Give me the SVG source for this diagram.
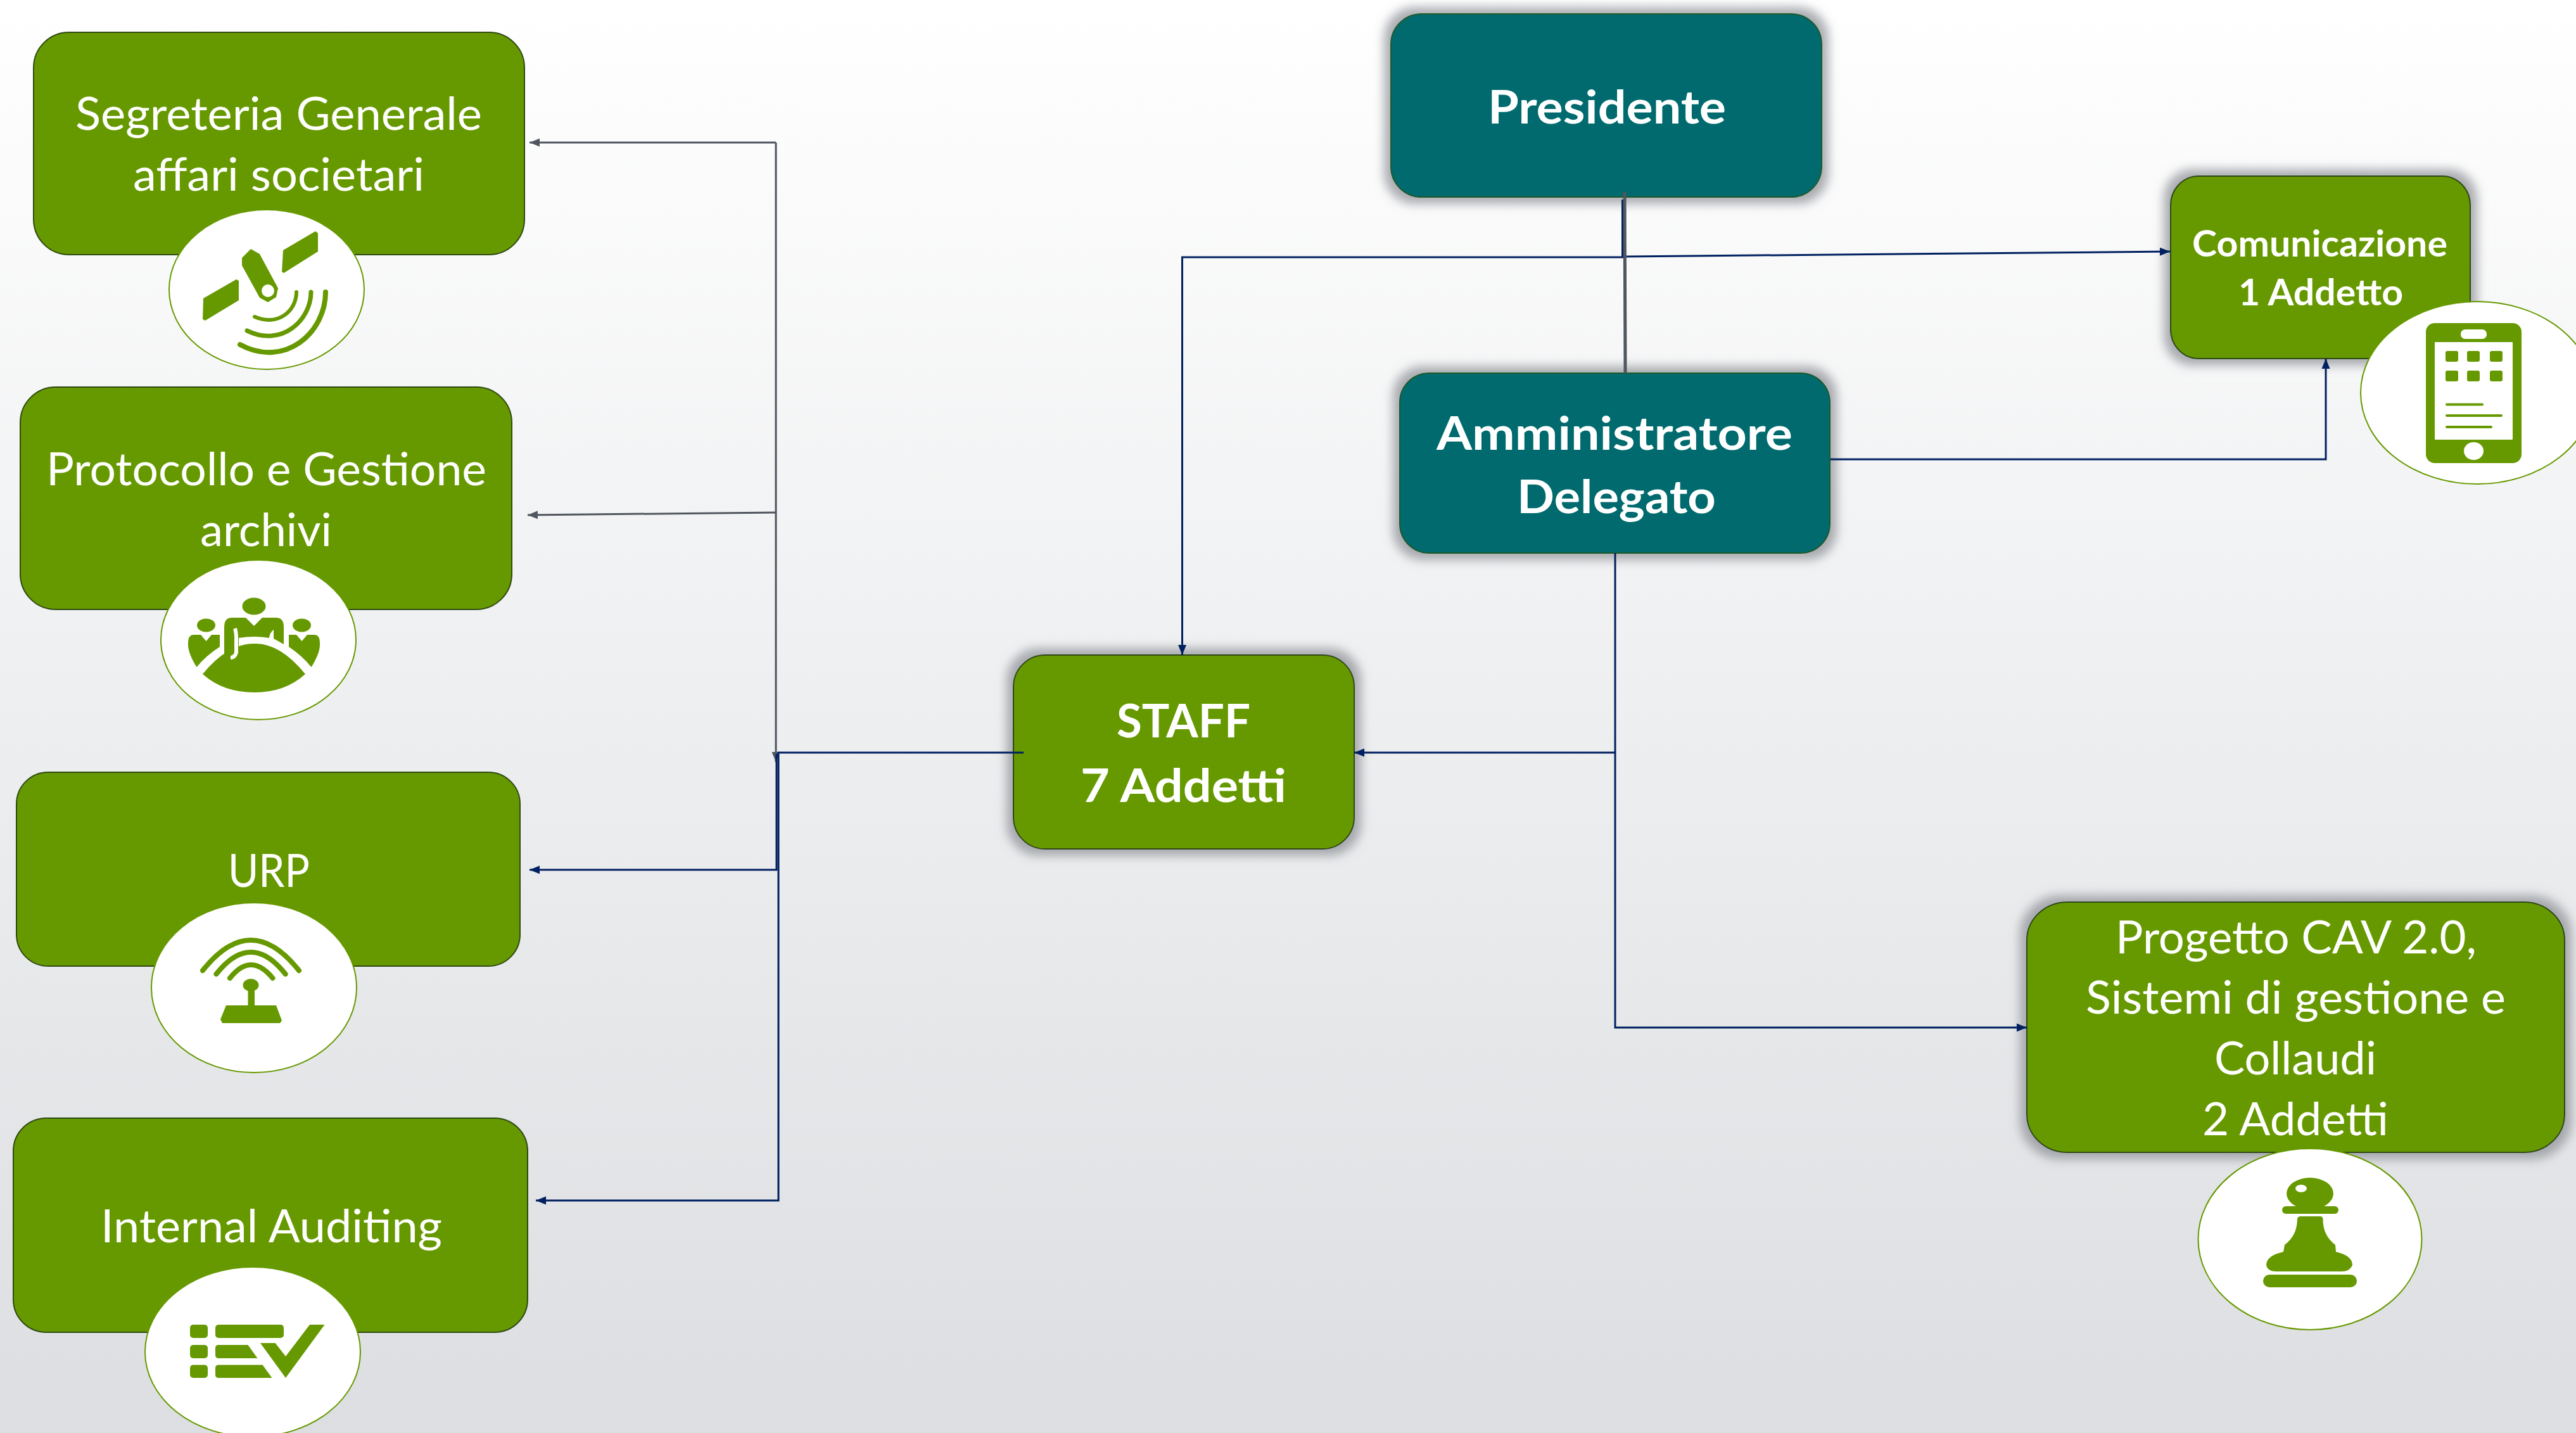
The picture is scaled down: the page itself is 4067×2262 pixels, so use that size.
<svg xmlns="http://www.w3.org/2000/svg" width="4067" height="2262" viewBox="0 0 4067 2262">
<defs>
<linearGradient id="bg" x1="0" y1="0" x2="0" y2="1"><stop offset="0" stop-color="#ffffff"/><stop offset="1" stop-color="#dcdee1"/></linearGradient>
<filter id="glow" x="-15%" y="-15%" width="130%" height="130%">
<feMorphology in="SourceAlpha" operator="dilate" radius="10" result="d"/>
<feGaussianBlur in="d" stdDeviation="8" result="b"/>
<feFlood flood-color="#8f9298" flood-opacity="0.75"/>
<feComposite in2="b" operator="in" result="s"/>
<feMerge><feMergeNode in="s"/><feMergeNode in="SourceGraphic"/></feMerge>
</filter>
<marker id="an" markerUnits="userSpaceOnUse" markerWidth="18" markerHeight="18" refX="16" refY="9" orient="auto"><path d="M0 2.5 L16 9 L0 15.5Z" fill="#002060"/></marker>
<marker id="ag" markerUnits="userSpaceOnUse" markerWidth="18" markerHeight="18" refX="16" refY="9" orient="auto"><path d="M0 2.5 L16 9 L0 15.5Z" fill="#50565e"/></marker>
<style>
.g{fill:#669900;stroke:#2f4a12;stroke-width:2}
.t{fill:#006b6e;stroke:#1f5a2a;stroke-width:2}
.c{fill:#ffffff;stroke:#669900;stroke-width:2}
.i{fill:#669900}
.ia{fill:none;stroke:#669900;stroke-linecap:round}
text{font-family:Lato,"Open Sans","Liberation Sans",sans-serif;fill:#ffffff;text-anchor:start}
.r{font-size:71px}
.b{font-size:73px;font-weight:700}
.s{font-size:57px;font-weight:700}
.nav{fill:none;stroke:#002060;stroke-width:3}
.gry{fill:none;stroke:#50565e;stroke-width:3}
</style>
</defs>
<rect width="4067" height="2262" fill="url(#bg)"/>

<g id="node-segreteria">
<rect class="g" x="53" y="51" width="775" height="351" rx="56" ry="56"/>
<text class="r" x="119" y="205" textLength="642" lengthAdjust="spacingAndGlyphs">Segreteria Generale</text>
<text class="r" x="210" y="301" textLength="460" lengthAdjust="spacingAndGlyphs">affari societari</text>
<ellipse class="c" cx="421" cy="457" rx="154" ry="126"/>
<path class="i" d="M447 395L498 365L502 368V397L448 431L445 429Z"/>
<path class="i" d="M321 471L373 441L377 443V474L324 506L320 504Z"/>
<path class="i" fill-rule="evenodd" d="M382 407L396 393L410 401L439 455L436 469L423 477L410 470L382 419ZM423 449A10 10 0 1 0 423 469A10 10 0 1 0 423 449Z"/>
<path class="ia" stroke-width="6" d="M468 461C468 490 440 516 402 500"/>
<path class="ia" stroke-width="7" d="M491 461C491 505 445 549 390 522"/>
<path class="ia" stroke-width="8" d="M514 461C514 525 450 582 379 544"/>
</g>

<g id="node-protocollo">
<rect class="g" x="32" y="611" width="776" height="351" rx="56" ry="56"/>
<text class="r" x="73" y="766" textLength="695" lengthAdjust="spacingAndGlyphs">Protocollo e Gestione</text>
<text class="r" x="316" y="862" textLength="208" lengthAdjust="spacingAndGlyphs">archivi</text>
<ellipse class="c" cx="408" cy="1010" rx="154" ry="126"/>
<path class="i" d="M320 1064Q360 1015 402 1016Q442 1015 482 1064Q450 1093 402 1093Q352 1093 320 1064Z"/>
<ellipse class="i" cx="401" cy="957" rx="18.5" ry="13.5"/>
<path class="i" d="M354 990Q354 975 366 975H388L401 988L414 975H436Q448 975 448 990V1017L432 1008V994Q426 998 425 1007Q402 1003 377 1007V1030Q375 1042 364 1042Q354 1042 354 1030Z"/>
<path fill="none" stroke="#ffffff" stroke-width="6" d="M371 992Q373 998 373 1008V1030Q371 1038 364 1038"/>
<ellipse class="i" cx="325.500" cy="987" rx="14.500" ry="10.500"/>
<path class="i" d="M297 1015Q297 1002 306 1002H317L325.500 1012L334 1002H347V1021Q325 1035 310.500 1053Q296 1030 297 1015Z"/>
<ellipse class="i" cx="476.500" cy="987" rx="14.500" ry="10.500"/>
<path class="i" d="M505 1015Q505 1002 496 1002H485L476.500 1012L468 1002H456V1021Q477 1035 491.500 1053Q506 1030 505 1015Z"/>
</g>

<g id="node-urp">
<rect class="g" x="26" y="1219" width="795" height="306" rx="50" ry="50"/>
<text class="r" x="360" y="1400" textLength="129" lengthAdjust="spacingAndGlyphs">URP</text>
<ellipse class="c" cx="401" cy="1559" rx="162" ry="134"/>
<path class="ia" stroke-width="8" d="M320 1532Q396 1436 472 1532"/>
<path class="ia" stroke-width="8" d="M341.500 1537.500Q396 1468.500 450.600 1537.500"/>
<path class="ia" stroke-width="8" d="M363 1544Q396 1502 430.500 1544"/>
<ellipse class="i" cx="396" cy="1555" rx="12.500" ry="10"/>
<path class="i" d="M391.500 1560H402V1587H436L445 1611L442 1615H351L348 1609L357 1587H391.500Z"/>
</g>

<g id="node-auditing">
<rect class="g" x="21" y="1765" width="812" height="338" rx="52" ry="52"/>
<text class="r" x="159" y="1961" textLength="539" lengthAdjust="spacingAndGlyphs">Internal Auditing</text>
<ellipse class="c" cx="399" cy="2134" rx="170" ry="134"/>
<rect class="i" x="300" y="2091" width="28" height="21" rx="5"/>
<rect class="i" x="300" y="2123" width="28" height="21" rx="5"/>
<rect class="i" x="300" y="2154.500" width="28" height="20.500" rx="5"/>
<rect class="i" x="340" y="2091" width="108" height="21" rx="5"/>
<path class="i" d="M345 2123H391.500L406.500 2144H345Q340 2144 340 2139V2128Q340 2123 345 2123Z"/>
<path class="i" d="M345 2154.500H414.500L429.400 2175H345Q340 2175 340 2170V2159.500Q340 2154.500 345 2154.500Z"/>
<path class="i" d="M411 2120H434.600L451 2141L489 2091H512.600L451 2175Z"/>
</g>

<g id="node-presidente" filter="url(#glow)">
<rect class="t" x="2196" y="22" width="680" height="289" rx="48" ry="48"/>
<text class="b" x="2349" y="195" textLength="376" lengthAdjust="spacingAndGlyphs">Presidente</text>
</g>

<g id="node-ad" filter="url(#glow)">
<rect class="t" x="2210" y="589" width="679" height="284" rx="46" ry="46"/>
<text class="b" x="2268" y="710" textLength="562" lengthAdjust="spacingAndGlyphs">Amministratore</text>
<text class="b" x="2395" y="810" textLength="314" lengthAdjust="spacingAndGlyphs">Delegato</text>
</g>

<g id="node-staff" filter="url(#glow)">
<rect class="g" x="1600" y="1034" width="538" height="306" rx="50" ry="50"/>
<text class="b" x="1763" y="1164" textLength="211" lengthAdjust="spacingAndGlyphs">STAFF</text>
<text class="b" x="1706" y="1266" textLength="325" lengthAdjust="spacingAndGlyphs">7 Addetti</text>
</g>

<g id="node-comunicazione">
<rect class="g" x="3427" y="278" width="473" height="288" rx="44" ry="46" filter="url(#glow)"/>
<text class="s" x="3461" y="405" textLength="403" lengthAdjust="spacingAndGlyphs">Comunicazione</text>
<text class="s" x="3534" y="482" textLength="260" lengthAdjust="spacingAndGlyphs">1 Addetto</text>
<ellipse class="c" cx="3911" cy="620" rx="184" ry="144"/>
<rect class="i" x="3830" y="510" width="151" height="221" rx="14"/>
<rect x="3844" y="540" width="123" height="154" rx="1" fill="#fff"/>
<rect x="3885" y="520" width="41" height="15" rx="7" fill="#fff"/>
<ellipse cx="3905.500" cy="712" rx="15.500" ry="14" fill="#fff"/>
<rect class="i" x="3861" y="554" width="20" height="17" rx="3"/>
<rect class="i" x="3895" y="554" width="20" height="17" rx="3"/>
<rect class="i" x="3931" y="554" width="20" height="17" rx="3"/>
<rect class="i" x="3861" y="585" width="20" height="17" rx="3"/>
<rect class="i" x="3895" y="585" width="20" height="17" rx="3"/>
<rect class="i" x="3931" y="585" width="20" height="17" rx="3"/>
<rect class="i" x="3861" y="636.500" width="60" height="4" rx="2"/>
<rect class="i" x="3861" y="654" width="90" height="4" rx="2"/>
<rect class="i" x="3861" y="672" width="74" height="4" rx="2"/>
</g>

<g id="node-cav">
<rect class="g" x="3200" y="1424" width="849" height="395" rx="64" ry="60" filter="url(#glow)"/>
<text class="r" x="3340" y="1505" textLength="570" lengthAdjust="spacingAndGlyphs">Progetto CAV 2.0,</text>
<text class="r" x="3293" y="1600" textLength="663" lengthAdjust="spacingAndGlyphs">Sistemi di gestione e</text>
<text class="r" x="3496" y="1696" textLength="256" lengthAdjust="spacingAndGlyphs">Collaudi</text>
<text class="r" x="3477" y="1792" textLength="294" lengthAdjust="spacingAndGlyphs">2 Addetti</text>
<ellipse class="c" cx="3647" cy="1956" rx="176.500" ry="143"/>
<ellipse class="i" cx="3647" cy="1884" rx="37" ry="25"/>
<ellipse cx="3633" cy="1876" rx="9" ry="6" fill="#fff"/>
<rect class="i" x="3603" y="1904" width="89" height="12" rx="6"/>
<path class="i" d="M3632 1920H3663Q3667 1920 3667.500 1924Q3667 1950 3687 1965L3688 1976Q3714 1982 3714 1997Q3710 2007 3697 2007H3594Q3580 2007 3578 1997Q3578 1982 3605 1976L3607 1965Q3627 1950 3627 1924Q3628 1920 3632 1920Z"/>
<rect class="i" x="3573" y="2012" width="148" height="20" rx="10"/>
</g>

<g id="connectors">
<path class="nav" d="M2561.500 315V406H1866.500V1034" marker-end="url(#an)"/>
<path class="nav" d="M2566 405L3426 397" marker-end="url(#an)"/>
<path d="M2565 303L2566 589" fill="none" stroke="#50565e" stroke-width="5"/>
<path class="nav" d="M2890 725H3672V566" marker-end="url(#an)"/>
<path class="nav" d="M2550 873V1622H3200" marker-end="url(#an)"/>
<path class="nav" d="M2550 1188H2138" marker-end="url(#an)"/>
<path class="gry" d="M1225 225H836" marker-end="url(#ag)"/>
<path class="gry" d="M1225 809L833 813" marker-end="url(#ag)"/>
<path class="gry" d="M1225 225V1203" marker-end="url(#ag)"/>
<path class="nav" d="M1616 1188H1229V1895H846" marker-end="url(#an)"/>
<path class="nav" d="M1226 1190V1373H836" marker-end="url(#an)"/>
</g>
</svg>
